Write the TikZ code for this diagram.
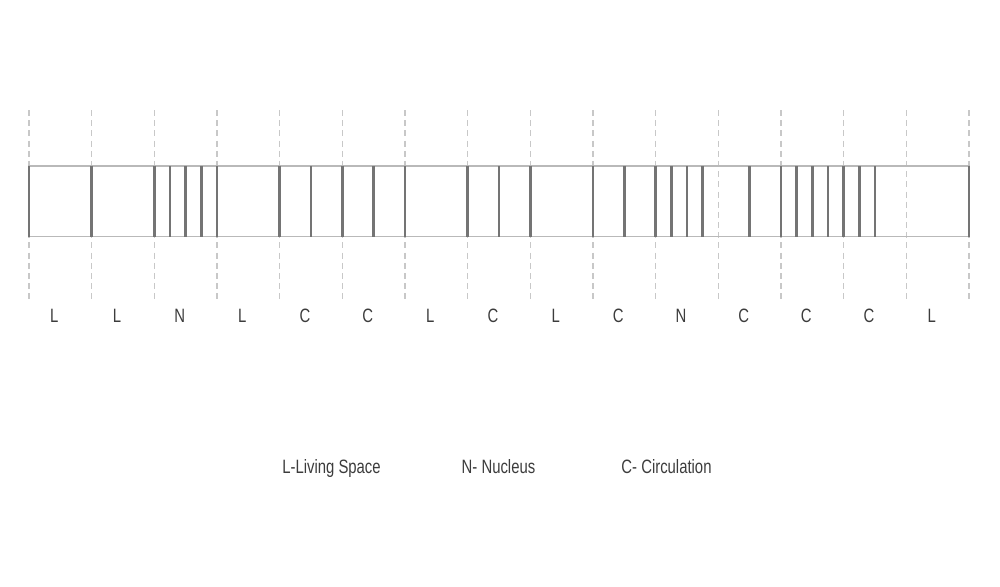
\documentclass[tikz,border=0pt]{standalone}
\usepackage{fontspec}
\setmainfont{Liberation Sans}[FakeStretch=0.77]

\definecolor{gridgrey}{HTML}{C8C8C8}
\definecolor{stripgrey}{HTML}{B9B9B9}
\definecolor{wallgrey}{HTML}{747474}
\definecolor{textgrey}{HTML}{3C3C3C}

\begin{document}
\begin{tikzpicture}[
    x=0.02cm, y=-0.02cm,
    % Style for the module grid (light dashed lines)
    modline/.style={draw=gridgrey, line width=0.6pt, dash pattern=on 3.4pt off 2.4pt},
    % Style for the outline of the strip
    strip/.style={draw=stripgrey, line width=0.6pt},
    % Style for the walls (dark vertical bars)
    wall/.style={draw=wallgrey, line width=1.4pt},
    % Style for the module letters and the legend (placed on their baseline)
    tag/.style={font=\fontsize{11}{13}\selectfont, text=textgrey, inner sep=0pt, anchor=base},
    legendtext/.style={font=\fontsize{11}{13}\selectfont, text=textgrey, inner sep=0pt, anchor=base}
]

\useasboundingbox (0,0) rectangle (1000,586);

% Macro for one wall across the strip
\newcommand{\wallat}[1]{\draw[wall] (#1,166) -- (#1,236.5);}

% ==========================
% Module grid
% ==========================
\draw[modline] (29,110) -- (29,300);
\draw[modline] (91.67,110) -- (91.67,300);
\draw[modline] (154.33,110) -- (154.33,300);
\draw[modline] (217,110) -- (217,300);
\draw[modline] (279.67,110) -- (279.67,300);
\draw[modline] (342.33,110) -- (342.33,300);
\draw[modline] (405,110) -- (405,300);
\draw[modline] (467.67,110) -- (467.67,300);
\draw[modline] (530.33,110) -- (530.33,300);
\draw[modline] (593,110) -- (593,300);
\draw[modline] (655.67,110) -- (655.67,300);
\draw[modline] (718.33,110) -- (718.33,300);
\draw[modline] (781,110) -- (781,300);
\draw[modline] (843.67,110) -- (843.67,300);
\draw[modline] (906.33,110) -- (906.33,300);
\draw[modline] (969,110) -- (969,300);

% ==========================
% Strip and walls
% ==========================
\draw[strip] (29,166) rectangle (969,236.5);

\wallat{29}
\wallat{91.67}
% nucleus
\wallat{154.33} \wallat{170} \wallat{185.67} \wallat{201.33}
\wallat{217}
\wallat{279.67} \wallat{311}
\wallat{342.33} \wallat{373.67}
\wallat{405}
\wallat{467.67} \wallat{499}
\wallat{530.33}
\wallat{593} \wallat{624.33}
% nucleus
\wallat{655.67} \wallat{671.33} \wallat{687} \wallat{702.67}
\wallat{749.67}
\wallat{781} \wallat{796.67} \wallat{812.33} \wallat{828}
\wallat{843.67} \wallat{859.33} \wallat{875}
\wallat{969}

% ==========================
% Module letters
% ==========================
\node[tag] (m1) at (54.33,322) {L};
\node[tag] (m2) at (117,322) {L};
\node[tag] (m3) at (179.67,322) {N};
\node[tag] (m4) at (242.33,322) {L};
\node[tag] (m5) at (305,322) {C};
\node[tag] (m6) at (367.67,322) {C};
\node[tag] (m7) at (430.33,322) {L};
\node[tag] (m8) at (493,322) {C};
\node[tag] (m9) at (555.67,322) {L};
\node[tag] (m10) at (618.33,322) {C};
\node[tag] (m11) at (681,322) {N};
\node[tag] (m12) at (743.67,322) {C};
\node[tag] (m13) at (806.33,322) {C};
\node[tag] (m14) at (869,322) {C};
\node[tag] (m15) at (931.67,322) {L};

% ==========================
% Legend
% ==========================
\node[legendtext] (keyL) at (331.5,473) {L-Living Space};
\node[legendtext] (keyN) at (498.5,473) {N- Nucleus};
\node[legendtext] (keyC) at (666.5,473) {C- Circulation};

\end{tikzpicture}
\end{document}
